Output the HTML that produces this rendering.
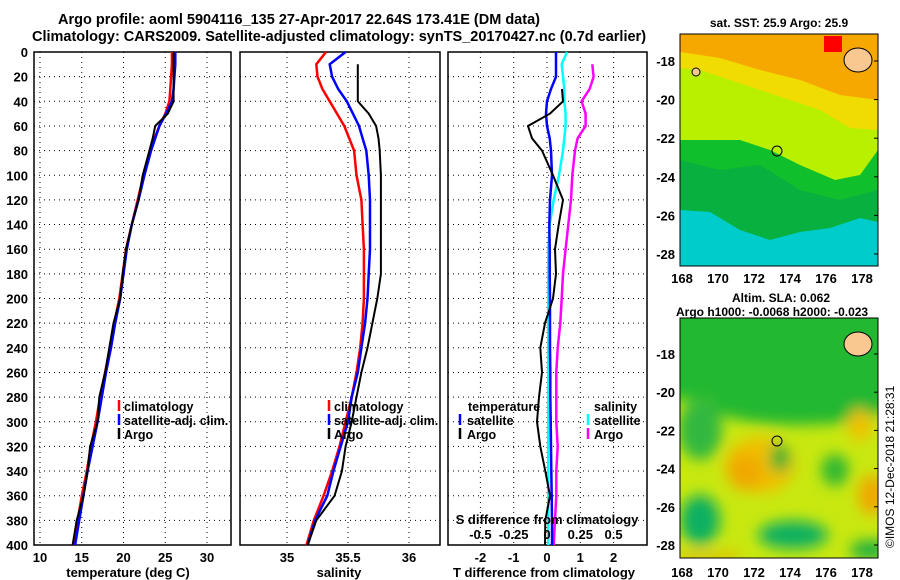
<!DOCTYPE html>
<html><head><meta charset="utf-8">
<style>
html,body{margin:0;padding:0;background:#fff;}
svg{display:block;font-family:"Liberation Sans",sans-serif;font-weight:bold;}
</style></head>
<body>
<svg id="fig" width="900" height="580" viewBox="0 0 900 580" xmlns="http://www.w3.org/2000/svg">
<defs>
<filter id="blur6" x="-50%" y="-50%" width="200%" height="200%"><feGaussianBlur stdDeviation="7"/></filter>
<clipPath id="clipMap1"><rect x="680" y="34" width="198" height="232"/></clipPath>
<clipPath id="clipMap2"><rect x="680" y="318" width="198" height="240"/></clipPath>
</defs>
<text x="299" y="24" font-size="14.5" text-anchor="middle">Argo profile: aoml 5904116_135 27-Apr-2017 22.64S 173.41E (DM data)</text>
<text x="339" y="41" font-size="14.5" text-anchor="middle">Climatology: CARS2009. Satellite-adjusted climatology: synTS_20170427.nc (0.7d earlier)</text>

<!-- top map -->
<g clip-path="url(#clipMap1)">
<rect x="680" y="34" width="198" height="232" fill="#0fbf2c"/>
<path d="M680,34 H878 V150 L860,175 L835,180 L800,165 L770,150 L740,140 L705,140 L680,140 Z" fill="#b8f000"/>
<path d="M680,34 H878 V130 L850,128 L820,110 L790,100 L760,90 L730,80 L700,70 L680,68 Z" fill="#f0dc00"/>
<path d="M680,34 H878 V100 L840,95 L800,80 L760,70 L720,58 L680,52 Z" fill="#f7a800"/>
<path d="M680,160 L720,170 L760,165 L800,190 L840,200 L878,190 V266 H680 Z" fill="#08b040"/>
<path d="M680,210 L710,212 L740,230 L770,240 L800,232 L830,228 L860,218 L878,222 V266 H680 Z" fill="#00cccc"/>
<rect x="824" y="36" width="18" height="16" fill="#f00"/>
<ellipse cx="858" cy="60" rx="14" ry="12" fill="#f8c890" stroke="#000" stroke-width="1"/>
<ellipse cx="696" cy="72" rx="4" ry="4" fill="#f8c890" stroke="#000" stroke-width="1"/>
<circle cx="777" cy="151" r="5" fill="none" stroke="#000" stroke-width="1"/>
</g>
<rect x="680" y="34" width="198" height="232" fill="none" stroke="#000" stroke-width="1"/>
<text x="779" y="27" font-size="12" text-anchor="middle">sat. SST: 25.9 Argo: 25.9</text>

<!-- bottom map -->
<g clip-path="url(#clipMap2)">
<rect x="680" y="318" width="198" height="240" fill="#c8e810"/>
<g filter="url(#blur6)">
<rect x="660" y="300" width="240" height="100" fill="#22b830"/>
<ellipse cx="800" cy="405" rx="90" ry="20" fill="#22b830"/>
<ellipse cx="700" cy="430" rx="22" ry="30" fill="#30b840"/>
<ellipse cx="760" cy="465" rx="35" ry="28" fill="#f0c000"/>
<ellipse cx="745" cy="472" rx="18" ry="18" fill="#f0a800"/>
<ellipse cx="860" cy="425" rx="12" ry="16" fill="#f0c000"/>
<ellipse cx="872" cy="495" rx="14" ry="20" fill="#f0a800"/>
<ellipse cx="780" cy="458" rx="10" ry="14" fill="#28b030"/>
<ellipse cx="835" cy="470" rx="14" ry="16" fill="#30b830"/>
<ellipse cx="700" cy="520" rx="20" ry="25" fill="#10b060"/>
<ellipse cx="793" cy="535" rx="35" ry="14" fill="#10b060"/>
<ellipse cx="870" cy="550" rx="20" ry="10" fill="#20b040"/>
<rect x="680" y="552" width="60" height="10" fill="#e0c000"/>
</g>
<ellipse cx="858" cy="344" rx="14" ry="12" fill="#f8c890" stroke="#000" stroke-width="1"/>
<circle cx="777" cy="441" r="5" fill="none" stroke="#000" stroke-width="1"/>
</g>
<rect x="680" y="318" width="198" height="240" fill="none" stroke="#000" stroke-width="1"/>
<text x="732" y="302" font-size="12">Altim. SLA: 0.062</text>
<text x="676" y="316" font-size="12">Argo h1000: -0.0068 h2000: -0.023</text>
<text transform="translate(894,548) rotate(-90)" font-size="12" font-weight="normal">©IMOS 12-Dec-2018 21:28:31</text>
<g id="plots"></g>
</svg>
<script>
// ---- data ----
const depths = [0,10,20,30,40,50,60,70,80,100,120,140,160,180,200,220,240,260,280,300,320,340,360,380,400];
const tempClim = [25.8,25.8,25.7,25.6,25.5,25.0,24.3,23.7,23.2,22.4,21.7,21.0,20.3,19.9,19.5,18.9,18.4,17.8,17.2,16.7,16.1,15.6,15.0,14.5,14.0];
const tempSat  = [26.2,26.2,26.1,26.0,25.8,25.1,24.3,23.8,23.3,22.5,21.8,21.0,20.4,20.0,19.6,19.0,18.5,17.9,17.4,16.9,16.3,15.7,15.2,14.7,14.2];
const tempArgo = [26.0,26.0,26.0,26.0,26.0,25.3,23.8,23.5,23.1,22.3,21.8,21.0,20.3,19.9,19.6,18.8,18.3,17.8,17.1,16.9,16.0,15.7,15.2,14.4,13.9];
const salClim = [35.32,35.24,35.25,35.29,35.35,35.41,35.47,35.51,35.55,35.57,35.61,35.62,35.63,35.63,35.63,35.62,35.60,35.57,35.53,35.48,35.43,35.37,35.30,35.22,35.16];
const salSat  = [35.48,35.35,35.37,35.42,35.49,35.54,35.59,35.62,35.65,35.67,35.68,35.68,35.68,35.67,35.66,35.64,35.61,35.58,35.53,35.50,35.44,35.38,35.33,35.23,35.17];
const salArgo = [null,35.58,35.58,35.58,35.58,35.67,35.73,35.75,35.76,35.77,35.77,35.77,35.77,35.77,35.74,35.70,35.66,35.61,35.57,35.53,35.48,35.45,35.39,35.24,35.17];
const dTSat  = [0.27,0.27,0.27,0.12,0.0,-0.03,0.0,0.08,0.12,0.15,0.09,0.07,0.08,0.08,0.09,0.09,0.09,0.1,0.1,0.11,0.12,0.13,0.14,0.15,0.15];
const dTArgo = [null,null,null,0.45,0.48,0.09,-0.57,-0.45,-0.15,0.18,0.48,0.35,0.24,0.27,0.18,-0.06,-0.2,-0.15,-0.24,-0.3,-0.2,-0.05,0.09,-0.05,-0.06];
const dSSat  = [0.15,0.11,0.12,0.13,0.13,0.14,0.14,0.13,0.12,0.09,0.05,0.02,0.01,0.01,0.01,0.01,0.01,0.01,0.01,0.01,0.01,0.01,0.01,0.01,0.01];
const dSArgo = [null,0.34,0.35,0.32,0.26,0.29,0.29,0.23,0.21,0.19,0.18,0.16,0.14,0.12,0.11,0.1,0.08,0.07,0.07,0.07,0.08,0.07,0.07,0.06,0.05];
const depthTicks = [0,20,40,60,80,100,120,140,160,180,200,220,240,260,280,300,320,340,360,380,400];
const tempTicks = [10,15,20,25,30];
const salTicks = [35,35.5,36];
const salTickLabels = ["35","35.5","36"];
const dTTicks = [-2,-1,0,1,2];
const dSTickVals = [-0.5,-0.25,0,0.25,0.5];
const dSTickLabels = ["-0.5","-0.25","0","0.25","0.5"];
const lonTicks = [168,170,172,174,176,178];
const latTicks1 = [-18,-20,-22,-24,-26,-28];

const NS = "http://www.w3.org/2000/svg";
const root = document.getElementById('plots');
function mk(tag, attrs, parent){
  const e = document.createElementNS(NS, tag);
  for (const k in attrs) e.setAttribute(k, attrs[k]);
  (parent||root).appendChild(e);
  return e;
}
const yD = d => 52 + d*(545-52)/400;
const xT = v => 40 + (v-10)*(207-40)/20;
const xS = v => 287 + (v-35)*(409-287);
const xDT = v => 547 + v*33.3;
const xDS = v => 547 + v*4*33.3;

function panel(x0, x1, name, xticks, xfn, xlabels){
  const g = mk('g', {});
  
  
  depthTicks.forEach(d => {
    if (d>0 && d<400) {
      const l = mk('line', {x1:x0, x2:x1, y1:yD(d), y2:yD(d), stroke:'#000', 'stroke-width':1, 'stroke-dasharray':'1,4'}, g);
      
      
    }
  });
  xticks.forEach((v,i) => {
    const x = xfn(v);
    const l = mk('line', {x1:x, x2:x, y1:52, y2:545, stroke:'#000', 'stroke-width':1, 'stroke-dasharray':'1,4'}, g);
    
    
    const t = mk('text', {x:x, y:562, 'font-size':13, 'text-anchor':'middle'}, g);
    t.textContent = xlabels[i];
    
    
  });
  const r = mk('rect', {x:x0, y:52, width:x1-x0, height:545-52, fill:'none', stroke:'#000', 'stroke-width':1.5}, g);
  
  
  return g;
}
function series(g, vals, xfn, color, w, name){
  let d = '', started = false;
  vals.forEach((v,i) => {
    if (v === null) { started = false; return; }
    d += (started ? 'L' : 'M') + xfn(v).toFixed(1) + ',' + yD(depths[i]).toFixed(1);
    started = true;
  });
  const p = mk('path', {d:d, fill:'none', stroke:color, 'stroke-width':w}, g);
  
  
}
function txt(g, x, y, s, name, size, anchor){
  const t = mk('text', {x:x, y:y, 'font-size':size||13, 'text-anchor':anchor||'start'}, g);
  t.textContent = s;
  
  
  return t;
}
function legendMark(g, x, y, color, name){
  const l = mk('line', {x1:x, x2:x, y1:y-11, y2:y, stroke:color, 'stroke-width':2.5}, g);
  
  
}

// panel 1
const g1 = panel(34, 231, 'temperature-panel', tempTicks, xT, tempTicks.map(String));
depthTicks.forEach(d => txt(g1, 28, yD(d)+5, String(d), 'y-tick-label', 13, 'end'));
series(g1, tempClim, xT, '#f00', 2.5, 'temp-climatology-line');
series(g1, tempSat, xT, '#00f', 2.5, 'temp-satellite-line');
series(g1, tempArgo, xT, '#000', 2, 'temp-argo-line');
txt(g1, 128, 577, 'temperature (deg C)', 'x-axis-title', 13, 'middle');
legendMark(g1, 119, 411, '#f00', 'legend-climatology-mark'); txt(g1, 124, 411, 'climatology', 'legend-climatology', 12.5);
legendMark(g1, 119, 425, '#00f', 'legend-satellite-mark'); txt(g1, 124, 425, 'satellite-adj. clim.', 'legend-satellite', 12.5);
legendMark(g1, 119, 439, '#000', 'legend-argo-mark'); txt(g1, 124, 439, 'Argo', 'legend-argo', 12.5);

// panel 2
const g2 = panel(240, 440, 'salinity-panel', salTicks, xS, salTickLabels);
series(g2, salClim, xS, '#f00', 2.5, 'sal-climatology-line');
series(g2, salSat, xS, '#00f', 2.5, 'sal-satellite-line');
series(g2, salArgo, xS, '#000', 2, 'sal-argo-line');
txt(g2, 339, 577, 'salinity', 'x-axis-title', 13, 'middle');
legendMark(g2, 329, 411, '#f00', 'legend-climatology-mark'); txt(g2, 334, 411, 'climatology', 'legend-climatology', 12.5);
legendMark(g2, 329, 425, '#00f', 'legend-satellite-mark'); txt(g2, 334, 425, 'satellite-adj. clim.', 'legend-satellite', 12.5);
legendMark(g2, 329, 439, '#000', 'legend-argo-mark'); txt(g2, 334, 439, 'Argo', 'legend-argo', 12.5);

// panel 3
const g3 = panel(448, 647, 'difference-panel', dTTicks, xDT, dTTicks.map(String));
series(g3, dSSat, xDS, '#0ff', 2.5, 'dS-satellite-line');
series(g3, dSArgo, xDS, '#f0f', 2.5, 'dS-argo-line');
series(g3, dTSat, xDT, '#00f', 2.5, 'dT-satellite-line');
series(g3, dTArgo, xDT, '#000', 2, 'dT-argo-line');
txt(g3, 544, 577, 'T difference from climatology', 'x-axis-title', 13, 'middle');
txt(g3, 547, 524, 'S difference from climatology', 's-axis-title', 13, 'middle');
dSTickVals.forEach((v,i) => txt(g3, xDS(v), 539, dSTickLabels[i], 's-tick-label', 13, 'middle'));
txt(g3, 468, 411, 'temperature', 'legend-temperature-title', 12.5);
legendMark(g3, 460, 425, '#00f', 'legend-t-satellite-mark'); txt(g3, 467, 425, 'satellite', 'legend-t-satellite', 12.5);
legendMark(g3, 460, 439, '#000', 'legend-t-argo-mark'); txt(g3, 467, 439, 'Argo', 'legend-t-argo', 12.5);
txt(g3, 594, 411, 'salinity', 'legend-salinity-title', 12.5);
legendMark(g3, 588, 425, '#0ff', 'legend-s-satellite-mark'); txt(g3, 594, 425, 'satellite', 'legend-s-satellite', 12.5);
legendMark(g3, 588, 439, '#f0f', 'legend-s-argo-mark'); txt(g3, 594, 439, 'Argo', 'legend-s-argo', 12.5);

// map axes
const xLon = v => 682 + (v-168)*18;
const yLat1 = v => 61 + (-18 - v)*19.3;
const yLat2 = v => 354 + (-18 - v)*19.1;
const gm = mk('g', {});


lonTicks.forEach(v => {
  txt(gm, xLon(v), 283, String(v), 'map1-x-tick', 13, 'middle');
  txt(gm, xLon(v), 577, String(v), 'map2-x-tick', 13, 'middle');
});
latTicks1.forEach(v => {
  txt(gm, 675, yLat1(v)+5, String(v), 'map1-y-tick', 13, 'end');
  txt(gm, 675, yLat2(v)+5, String(v), 'map2-y-tick', 13, 'end');
  [yLat1(v), yLat2(v)].forEach(y => {
    const l = mk('line', {x1:874, x2:878, y1:y, y2:y, stroke:'#000'}, gm);
    
    
  });
});
</script>
</body></html>
